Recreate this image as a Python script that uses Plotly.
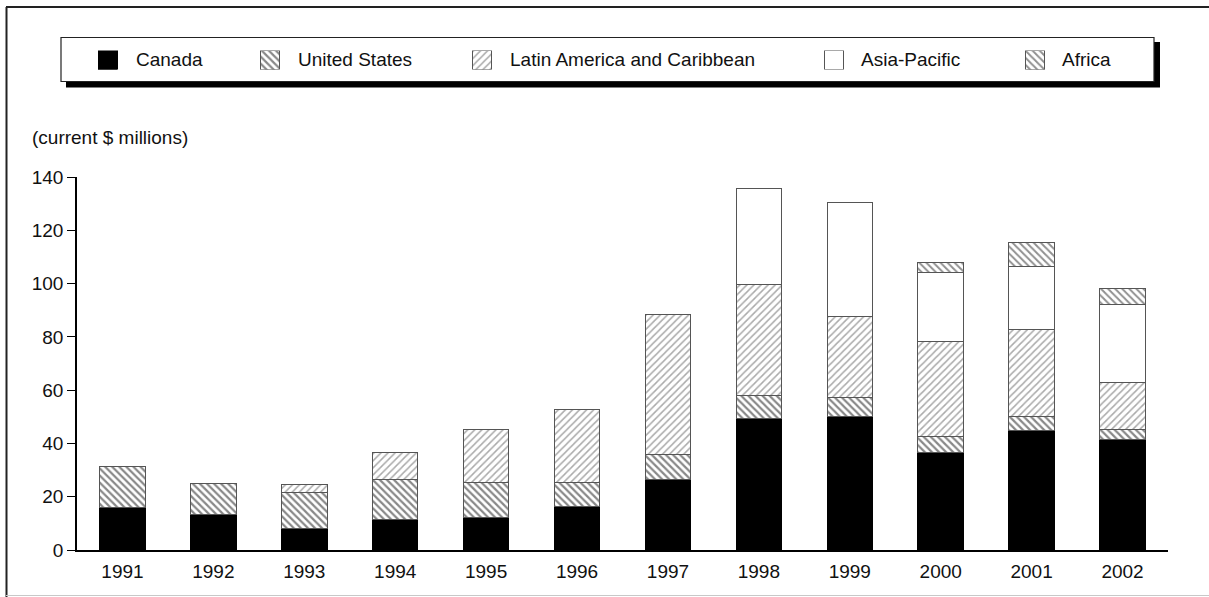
import plotly.graph_objects as go

# ---- data (current $ millions) ----
years = ["1991", "1992", "1993", "1994", "1995", "1996",
         "1997", "1998", "1999", "2000", "2001", "2002"]
canada = [16.0, 13.5, 7.9, 11.6, 12.1, 16.3, 26.4, 49.4, 50.0, 36.5, 44.7, 41.3]
united_states = [15.3, 11.5, 13.7, 14.7, 13.3, 9.1, 9.5, 8.6, 7.3, 6.2, 5.3, 3.8]
latin_america = [None, None, 3.0, 10.2, 20.0, 27.3, 52.5, 41.8, 30.5, 35.7, 32.9, 17.7]
asia_pacific = [None, None, None, None, None, None, None, 36.0, 42.7, 25.7, 23.6, 29.2]
africa = [None, None, None, None, None, None, None, None, None, 3.9, 9.1, 6.3]

series_names = ["Canada", "United States", "Latin America and Caribbean",
                "Asia-Pacific", "Africa"]
series_values = [canada, united_states, latin_america, asia_pacific, africa]
y_ticks = [0, 20, 40, 60, 80, 100, 120, 140]
unit_label = "(current $ millions)"

# ---- styling ----
W, H = 1209, 597
FONT = "Liberation Sans, Arial, sans-serif"
FS = 19
styles = [
    dict(color="black", marker_line="black", pattern=None),
    dict(color="white", marker_line="#555",
         pattern=dict(shape="\\", fgcolor="#111", bgcolor="white", size=5, solidity=0.45)),
    dict(color="white", marker_line="#555",
         pattern=dict(shape="/", fgcolor="#555", bgcolor="white", size=5, solidity=0.3)),
    dict(color="white", marker_line="#555", pattern=None),
    dict(color="white", marker_line="#555",
         pattern=dict(shape="\\", fgcolor="#222", bgcolor="white", size=5, solidity=0.4)),
]

# pixel helpers (paper spans the whole page since margins are zero)
def px(x):
    return x / W

def py(y):
    return 1 - y / H

plot_left, plot_right, plot_top, plot_bottom = 77, 1168, 177, 550

fig = go.Figure()

for name, vals, st in zip(series_names, series_values, styles):
    marker = dict(color=st["color"], line=dict(color=st["marker_line"], width=1))
    if st["pattern"]:
        marker["pattern"] = st["pattern"]
    fig.add_trace(go.Bar(x=years, y=vals, name=name, marker=marker,
                         showlegend=False, hoverinfo="x+y+name"))

# legend keys: small bars on a hidden helper axis laid out in page pixels
legend_swatch_centers = [107.5, 269.5, 482, 833.5, 1035]
legend_text_x = [134, 296, 508, 859, 1060]
for name, st, cx in zip(series_names, styles, legend_swatch_centers):
    marker = dict(color=st["color"], line=dict(color=st["marker_line"], width=1))
    if st["pattern"]:
        marker["pattern"] = st["pattern"]
    fig.add_trace(go.Bar(x=[cx], y=[1], width=[19], marker=marker,
                         xaxis="x2", yaxis="y2", showlegend=False, hoverinfo="skip"))

shapes = [
    # legend box shadow and box
    dict(type="rect", xref="paper", yref="paper", layer="below",
         x0=px(66), x1=px(1160), y0=py(87.5), y1=py(42),
         fillcolor="black", line=dict(width=0)),
    dict(type="rect", xref="paper", yref="paper", layer="below",
         x0=px(61), x1=px(1154), y0=py(81.5), y1=py(37.5),
         fillcolor="white", line=dict(color="#222", width=1.2)),
    # outer frame
    dict(type="line", xref="paper", yref="paper", x0=px(6), x1=1, y0=py(7), y1=py(7),
         line=dict(color="#222", width=2)),
    dict(type="line", xref="paper", yref="paper", x0=px(6.5), x1=px(6.5), y0=py(7), y1=py(597),
         line=dict(color="#222", width=2)),
    dict(type="line", xref="paper", yref="paper", x0=px(6), x1=1, y0=py(595.5), y1=py(595.5),
         line=dict(color="#c8c8c8", width=1)),
]

annotations = [
    dict(text=unit_label, xref="paper", yref="paper", x=px(30), y=py(137),
         xanchor="left", yanchor="middle", showarrow=False,
         font=dict(family=FONT, size=FS, color="#111")),
]
for name, tx in zip(series_names, legend_text_x):
    annotations.append(dict(text=name, xref="paper", yref="paper", x=px(tx), y=py(59.5),
                            xanchor="left", yanchor="middle", showarrow=False,
                            font=dict(family=FONT, size=FS, color="#111")))

fig.update_layout(
    width=W, height=H,
    margin=dict(l=0, r=0, t=0, b=0, pad=0),
    paper_bgcolor="white", plot_bgcolor="rgba(0,0,0,0)",
    barmode="stack", bargap=0.5,
    showlegend=False,
    font=dict(family=FONT, size=FS, color="#111"),
    xaxis=dict(domain=[px(plot_left), px(plot_right)], type="category",
               range=[-0.5, len(years) - 0.5], showline=True, linecolor="black",
               linewidth=1.5, ticks="outside", ticklen=3, tickcolor="rgba(0,0,0,0)",
               showgrid=False, zeroline=False, automargin=False,
               tickfont=dict(family=FONT, size=FS, color="#111")),
    yaxis=dict(domain=[py(plot_bottom), py(plot_top)], range=[0, 140],
               tickvals=y_ticks, showline=True, linecolor="black", linewidth=1.5,
               ticks="outside", ticklen=8, tickwidth=1, tickcolor="black",
               showgrid=False, zeroline=False, automargin=False,
               tickfont=dict(family=FONT, size=FS, color="#111")),
    xaxis2=dict(domain=[0, 1], range=[0, W], visible=False, anchor="y2",
                fixedrange=True),
    yaxis2=dict(domain=[py(69.5), py(50.5)], range=[0, 1], visible=False,
                anchor="x2", fixedrange=True),
    shapes=shapes,
    annotations=annotations,
)

fig.write_html("out.html", config=dict(displayModeBar=False))
